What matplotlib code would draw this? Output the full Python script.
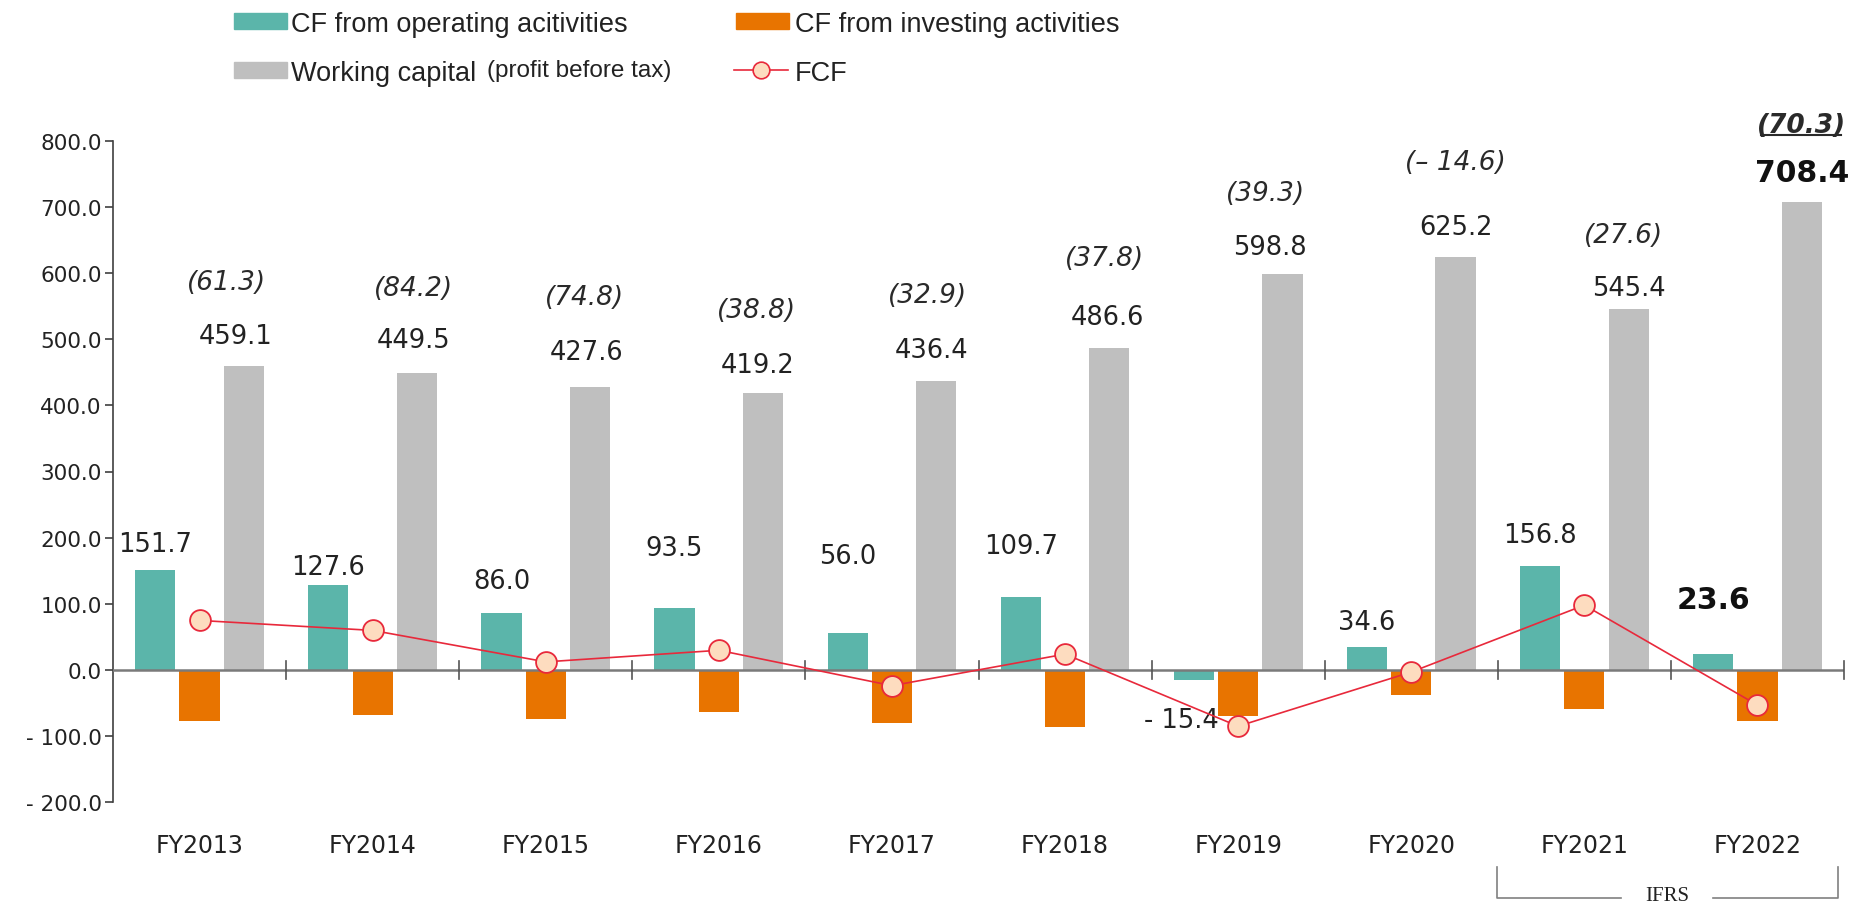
import matplotlib

matplotlib.use("Agg")
import matplotlib.pyplot as plt  # noqa: E402
from matplotlib.lines import Line2D  # noqa: E402
from matplotlib.patches import Rectangle  # noqa: E402
import numpy as np  # noqa: E402

YEARS = ["FY2013", "FY2014", "FY2015", "FY2016", "FY2017",
         "FY2018", "FY2019", "FY2020", "FY2021", "FY2022"]
CF_OPERATING = [151.7, 127.6, 86.0, 93.5, 56.0, 109.7, -15.4, 34.6, 156.8, 23.6]
CF_INVESTING = [-77, -68, -74, -64, -80, -86, -70, -38, -59, -77]
WORKING_CAPITAL = [459.1, 449.5, 427.6, 419.2, 436.4, 486.6, 598.8, 625.2, 545.4, 708.4]
PROFIT_BEFORE_TAX = [61.3, 84.2, 74.8, 38.8, 32.9, 37.8, 39.3, -14.6, 27.6, 70.3]
FCF = [74.7, 59.6, 12.0, 29.5, -24.0, 23.7, -85.4, -3.4, 97.8, -53.4]

# label heights (data units) - hand placed like the original slide
OP_LABEL_Y = [190, 156, 135, 184, 172, 188, -76, 73, 204, 106]
WC_LABEL_Y = [505, 499, 481, 461, 484, 534, 640, 670, 578, 753]
PBT_LABEL_Y = [587, 578, 564, 545, 567, 623, 722, 768, 658, 824]
WC_LABEL_DX = [-0.05, -0.02, -0.02, -0.03, -0.03, -0.01, -0.07, 0.0, 0.0, 0.0]
PBT_LABEL_DX = [-0.1, -0.02, -0.03, -0.04, -0.05, -0.03, -0.1, 0.0, -0.03, 0.0]

TEAL = "#5bb5aa"
ORANGE = "#e87400"
GREY = "#bfbfbf"
RED = "#e8293b"
PEACH = "#fddcbf"
TXT = "#222222"

LEGEND_FONT = ["Liberation Sans", "DejaVu Sans"]

W = 0.232
OFF = 0.256
FW, FH = 1854, 903


def fmt_num(v):
    return f"- {abs(v):.1f}" if v < 0 else f"{v:.1f}"


def fmt_pbt(v):
    return f"(– {abs(v):.1f})" if v < 0 else f"({v:.1f})"


def fx(px):
    return px / FW


def fy(py):
    return 1 - py / FH


fig = plt.figure(figsize=(FW / 100, FH / 100), dpi=100)
ax = fig.add_axes([fx(113), fy(803), (1844 - 113) / FW, (803 - 142) / FH])

x = np.arange(len(YEARS))
ax.bar(x - OFF, CF_OPERATING, W, color=TEAL, zorder=2)
ax.bar(x, CF_INVESTING, W, color=ORANGE, zorder=2)
ax.bar(x + OFF, WORKING_CAPITAL, W, color=GREY, zorder=2)
ax.plot(x, FCF, color=RED, lw=1.2, marker="o", ms=15, mfc=PEACH, mec=RED,
        mew=1.3, zorder=4, clip_on=False)

ax.set_xlim(-0.5, len(YEARS) - 0.5)
ax.set_ylim(-200, 800)

# axes styling
for s in ("top", "right", "bottom"):
    ax.spines[s].set_visible(False)
ax.spines["left"].set_color("#404040")
ax.spines["left"].set_linewidth(1.2)
ax.axhline(0, color="#7a7a7a", lw=1.8, zorder=3)
for b in np.arange(0.5, len(YEARS), 1.0):
    ax.plot([b, b], [-14, 14], color="#555555", lw=1.2, zorder=3, clip_on=False)

yt = np.arange(-200, 801, 100)
ax.set_yticks(yt)
ax.set_yticklabels([fmt_num(v) for v in yt], fontsize=15.5, color=TXT)
ax.tick_params(axis="y", length=6, width=1.2, color="#404040", pad=2)
ax.set_xticks([])
for i, yr in enumerate(YEARS):
    ax.text(i, -265, yr, ha="center", va="center", fontsize=17, color=TXT)

# value labels
for i, v in enumerate(CF_OPERATING):
    bold = YEARS[i] == "FY2022"
    dx = -0.07 if v < 0 else 0.0
    ax.text(i - OFF + dx, OP_LABEL_Y[i], fmt_num(v), ha="center", va="center",
            fontsize=21.5 if bold else 18.5, color="#111111" if bold else TXT,
            fontweight="bold" if bold else "normal")
for i, v in enumerate(WORKING_CAPITAL):
    bold = YEARS[i] == "FY2022"
    ax.text(i + OFF + WC_LABEL_DX[i], WC_LABEL_Y[i], fmt_num(v),
            ha="center", va="center",
            fontsize=21.5 if bold else 18.5, color="#111111" if bold else TXT,
            fontweight="bold" if bold else "normal", clip_on=False)
pbt_texts = []
for i, v in enumerate(PROFIT_BEFORE_TAX):
    last = YEARS[i] == "FY2022"
    t = ax.text(i + OFF + PBT_LABEL_DX[i], PBT_LABEL_Y[i], fmt_pbt(v),
                ha="center", va="center", fontsize=19, style="italic",
                color="#2a2a2a", fontweight="semibold" if last else "normal",
                clip_on=False)
    pbt_texts.append(t)


# legend (hand drawn to match slide layout)
def legend_patch(x0, yc, color):
    fig.patches.append(Rectangle((fx(x0), fy(yc + 8)), 53 / FW, 16 / FH,
                                 transform=fig.transFigure, color=color))


def legend_text(x0, yc, s, size=19.5):
    fig.text(fx(x0), fy(yc), s, fontsize=size, family=LEGEND_FONT,
             va="center_baseline", ha="left", color=TXT)


R1, R2 = 22, 71
legend_patch(234, R1, TEAL)
legend_text(291, R1, "CF from operating acitivities")
legend_patch(736, R1, ORANGE)
legend_text(795, R1, "CF from investing activities")
legend_patch(234, R2, GREY)
legend_text(291, R2, "Working capital")
legend_text(487, R2 - 3, "(profit before tax)", size=17.5)
fig.lines.append(Line2D([fx(734), fx(788)], [fy(R2)] * 2,
                        transform=fig.transFigure, color=RED, lw=1.2))
fig.lines.append(Line2D([fx(761)], [fy(R2)], transform=fig.transFigure,
                        marker="o", ms=12, mfc=PEACH, mec=RED, mew=1.2, ls="none"))
legend_text(795, R2, "FCF")

# IFRS bracket under FY2021-FY2022
bx0, bx1 = fx(1497), fx(1838)
ytop, ybot = fy(868), fy(899)
col = "#808080"
fig.lines.append(Line2D([bx0, bx0, fx(1621)], [ytop, ybot, ybot],
                        transform=fig.transFigure, color=col, lw=1.2))
fig.lines.append(Line2D([fx(1713), bx1, bx1], [ybot, ybot, ytop],
                        transform=fig.transFigure, color=col, lw=1.2))
fig.text(fx(1667), fy(897), "IFRS", fontsize=15, ha="center", va="center",
         color=TXT, family=["Liberation Serif", "DejaVu Serif"])

# underline the FY2022 profit figure
fig.canvas.draw()
bb = pbt_texts[-1].get_window_extent()
fig.lines.append(Line2D([fx(bb.x0 + 4), fx(bb.x1 - 5)],
                        [(bb.y0 + 3) / FH] * 2, transform=fig.transFigure,
                        color="#2a2a2a", lw=1.5))

fig.savefig("out.png", dpi=100)
